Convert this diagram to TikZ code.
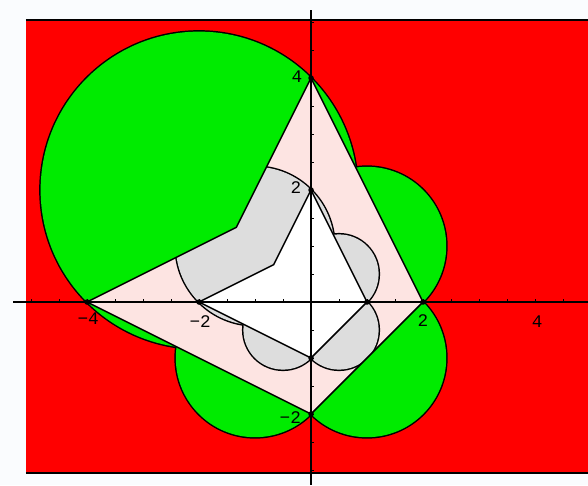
\documentclass[tikz,border=0pt]{standalone}
\usepackage{fontspec}
\newfontfamily\plotfont{Liberation Mono}
\definecolor{plotred}{RGB}{255,0,0}
\definecolor{plotgreen}{RGB}{0,235,0}
\definecolor{plotpink}{RGB}{253,228,226}
\definecolor{plotgray}{RGB}{221,221,221}
\definecolor{plotbg}{RGB}{250,252,254}

\begin{document}
\begin{tikzpicture}[x=1cm,y=1cm,font=\plotfont\fontsize{9}{10}\selectfont,
  edge/.style={draw=black, line width=0.75pt},
  rim/.style={draw=black, line width=1.5pt},
  tick/.style={draw=black, line width=0.5pt},
  dot/.style={circle, fill=black, inner sep=0pt, minimum size=2.8pt}]
  \def\xmin{-5.09}
  \def\xmax{4.946}
  \def\ymin{-3.054}
  \def\ymax{5.036}
  \def\kite{(0,4) -- (2,0) -- (0,-2) -- (-4,0) -- (-1.3333,1.3333) -- cycle}

  \useasboundingbox[fill=plotbg] (-5.554,-3.268) rectangle (4.946,5.393);
  \fill[plotred] (\xmin,\ymin) rectangle (\xmax,\ymax);
  \draw[edge] (\xmin,\ymax) -- (\xmax,\ymax);
  \draw[edge] (\xmin,\ymin) -- (\xmax,\ymin);

  % outer discs: outline first, then fill over it
  \foreach \cx/\cy/\r in {-2/2/2.8284, 1/1/1.4142, 1/-1/1.4142, -1/-1/1.4142}
    \draw[rim] (\cx,\cy) circle (\r);
  \foreach \cx/\cy/\r in {-2/2/2.8284, 1/1/1.4142, 1/-1/1.4142, -1/-1/1.4142}
    \fill[plotgreen] (\cx,\cy) circle (\r);

  \fill[plotpink] \kite;

  % inner discs, kept inside the kite
  \begin{scope}
    \clip \kite;
    \foreach \cx/\cy/\r in {-1/1/1.4142, 0.5/0.5/0.7071, 0.5/-0.5/0.7071, -0.5/-0.5/0.7071}
      \draw[rim] (\cx,\cy) circle (\r);
    \foreach \cx/\cy/\r in {-1/1/1.4142, 0.5/0.5/0.7071, 0.5/-0.5/0.7071, -0.5/-0.5/0.7071}
      \fill[plotgray] (\cx,\cy) circle (\r);
  \end{scope}

  \filldraw[edge, fill=white] (0,2) -- (1,0) -- (0,-1) -- (-2,0) -- (-0.6667,0.6667) -- cycle;
  \draw[edge] \kite;

  % axes
  \draw[edge] (-5.32,0) -- (\xmax,0);
  \draw[edge] (0,5.214) -- (0,-3.268);
  \foreach \t in {-5,-4.5,...,4.5}
    \draw[tick] (\t,0) -- ++(0,0.06);
  \foreach \t in {-3,-2.5,...,5}
    \draw[tick] (0,\t) -- ++(0.06,0);

  \foreach \px/\py [count=\i] in {0/4, 2/0, 0/-2, -4/0, 0/2, 1/0, 0/-1, -2/0}
    \node[dot] (v\i) at (\px,\py) {};

  \node (xlabA) at (-3.98,-0.30) {−4};
  \node (xlabB) at (-1.98,-0.35) {−2};
  \node (xlabC) at (2.0,-0.33) {2};
  \node (xlabD) at (4.04,-0.35) {4};
  \node (ylabA) at (-0.25,4.02) {4};
  \node (ylabB) at (-0.27,2.04) {2};
  \node (ylabC) at (-0.37,-2.07) {−2};
\end{tikzpicture}
\end{document}
